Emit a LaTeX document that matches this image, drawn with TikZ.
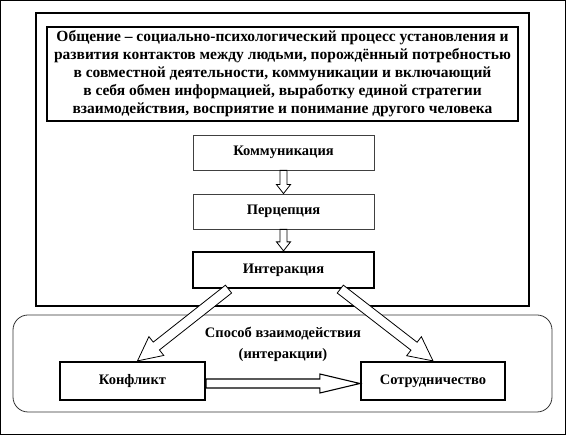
\documentclass[tikz,border=0pt]{standalone}
\usepackage{fontspec}
\setmainfont{Liberation Serif}
\usetikzlibrary{calc}
\tikzset{
  box/.style={draw=black!75, line width=0.8pt, fill=white, minimum width=181pt, minimum height=35pt, inner sep=0pt},
  keybox/.style={draw, line width=2.2pt, fill=white, inner sep=0pt},
  hollow/.style={draw, fill=white, line width=0.8pt, line join=miter},
}
% hollow block arrow: [style]{from}{to}{half shaft}{half head}{head length}
\newcommand\blockarrow[6][]{%
  \coordinate (hb) at ($(#3)!#6!(#2)$);
  \draw[hollow,#1] ($(#2)!#4!90:(#3)$) -- ($(hb)!#4!90:(#3)$) -- ($(hb)!#5!90:(#3)$) -- (#3)
    -- ($(hb)!#5!-90:(#3)$) -- ($(hb)!#4!-90:(#3)$) -- ($(#2)!#4!-90:(#3)$) -- cycle;}
\begin{document}
\begin{tikzpicture}[x=1pt, y=-1pt, font=\fontsize{14.5}{18}\selectfont\bfseries]
  \useasboundingbox (0,0) rectangle (566,435);
  \draw[line width=1.2pt] (0.6,0.6) rectangle (565.4,434.4);
  % upper part
  \draw[line width=1.6pt] (36,13) rectangle (529,306);
  \node[keybox, line width=2.4pt, minimum width=471pt, minimum height=94pt, align=center,
        font=\fontsize{15.5}{18}\selectfont\bfseries] (def) at (282.5,74)
    {Общение – социально-психологический процесс установления и\\
     развития контактов между людьми, порождённый потребностью\\
     в совместной деятельности, коммуникации и включающий\\
     в себя обмен информацией, выработку единой стратегии\\
     взаимодействия, восприятие и понимание другого человека};
  \node[box] (komm) at (283.5,152.5) {Коммуникация};
  \node[box] (perc) at (283.5,211.5) {Перцепция};
  \node[keybox, minimum width=181pt, minimum height=36pt] (inter) at (283.5,270) {Интеракция};
  \blockarrow{komm.south}{perc.north}{3.5pt}{7pt}{9pt}
  \blockarrow{perc.south}{inter.north}{3.5pt}{7pt}{9pt}
  % lower part
  \draw[line width=0.8pt, draw=black!80, rounded corners=15pt] (13,315) rectangle (552,412);
  \node[align=center] (mode) at (283,344.5) {Способ взаимодействия\\[3pt](интеракции)};
  \node[keybox, minimum width=145pt, minimum height=38pt] (konf) at (132.5,381) {Конфликт};
  \node[keybox, minimum width=144pt, minimum height=38pt] (sotr) at (433,381) {Сотрудничество};
  \coordinate (l1) at ($(inter.south west)!0.2!(inter.south east)$);
  \coordinate (l2) at ($(konf.north)+(5,0)$);
  \coordinate (r1) at ($(inter.south west)!0.81!(inter.south east)$);
  \coordinate (r2) at (sotr.north);
  \coordinate (h1) at ($(konf.east)+(0,2.5)$);
  \coordinate (h2) at ($(sotr.west)+(0,2.5)$);
  \blockarrow{l1}{l2}{5pt}{12pt}{24pt}
  \blockarrow{r1}{r2}{5pt}{12pt}{24pt}
  \blockarrow[line width=1.1pt]{h1}{h2}{4.5pt}{9.5pt}{40pt}
\end{tikzpicture}
\end{document}
